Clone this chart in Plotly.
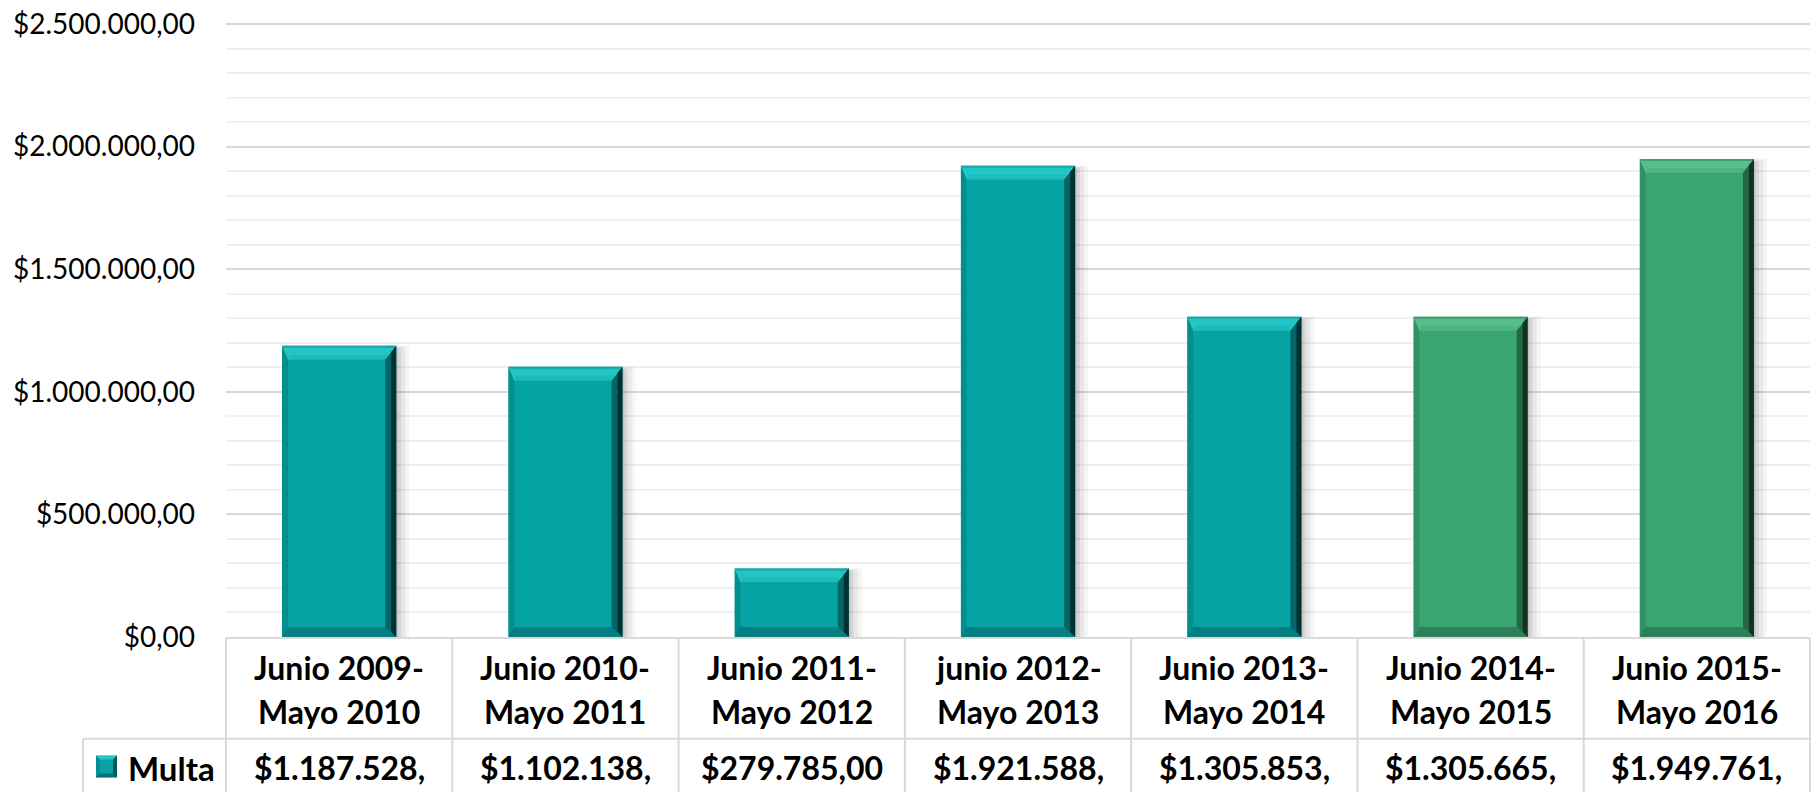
import plotly.graph_objects as go

# ---------------- data ----------------
periods_line1 = ["Junio 2009-", "Junio 2010-", "Junio 2011-", "junio 2012-",
                 "Junio 2013-", "Junio 2014-", "Junio 2015-"]
periods_line2 = ["Mayo 2010", "Mayo 2011", "Mayo 2012", "Mayo 2013",
                 "Mayo 2014", "Mayo 2015", "Mayo 2016"]
multa = [1187528, 1102138, 279785, 1921588, 1305853, 1305665, 1949761]
series_name = "Multa"
bar_colors = ["#05A3A3", "#05A3A3", "#05A3A3", "#05A3A3", "#05A3A3", "#3AA572", "#3AA572"]
y_tick_step = 500000
y_minor_step = 100000
y_top = 2500000

# lighter tone used for the top bevel of each bar colour
LIGHT = {"#05A3A3": "rgba(40,205,205,0.85)", "#3AA572": "rgba(90,195,140,0.85)"}

# ---------------- layout geometry ----------------
W, H = 1816, 792
HR = 4                                  # px of headroom above the top gridline
L, R, T, B = 226, 6, 22 - HR, 155
PW, PH = W - L - R, H - T - B
uy = y_top / (PH - HR)                  # data units per pixel (y)
YMAX = y_top + HR * uy
N = len(multa)
XMIN, XMAX = -0.5, N - 0.5
ux = (XMAX - XMIN) / PW                 # data units per pixel (x)
BARW = 0.505
hw = BARW / 2

FONT = "Lato, 'Open Sans', sans-serif"


def pxx(px):
    return (px - L) / PW


def pxy(py):
    return (T + PH - py) / PH


def fmt_money(v):
    s = f"{v:,.2f}".replace(",", "X").replace(".", ",").replace("X", ".")
    return "$" + s


fig = go.Figure()
fig.add_trace(go.Bar(
    x=list(range(N)), y=multa, name=series_name,
    marker=dict(color=bar_colors, line=dict(width=0)),
    width=BARW, showlegend=False, hoverinfo="y",
))

shapes = []
# bevel / shadow decoration for each bar, derived from the data values
for i, (v, c) in enumerate(zip(multa, bar_colors)):
    x0, x1 = i - hw, i + hw
    # soft shadow to the right
    for k, a in ((13, 0.04), (9, 0.05), (5, 0.07), (2, 0.08)):
        shapes.append(dict(type="rect", xref="x", yref="y", layer="between",
                           x0=x0 + 2 * ux, x1=x1 + k * ux, y0=0, y1=v - 3 * uy + k * 0.25 * uy,
                           line=dict(width=0), fillcolor=f"rgba(0,0,0,{a})"))
    bt, bb, bl, br = 14 * uy, 10 * uy, 6 * ux, 11 * ux
    ix0, ix1, iy0, iy1 = x0 + bl, x1 - br, bb, v - bt
    # top (light)
    shapes.append(dict(type="path", xref="x", yref="y", layer="above",
                       path=f"M{x0},{v} L{x1},{v} L{ix1},{iy1} L{ix0},{iy1} Z",
                       fillcolor=LIGHT[c], line=dict(width=0)))
    shapes.append(dict(type="path", xref="x", yref="y", layer="above",
                       path=f"M{x0 + 8*ux},{v - 9*uy} L{x1 - 8*ux},{v - 9*uy} L{ix1},{iy1} L{ix0},{iy1} Z",
                       fillcolor="rgba(0,0,0,0.06)", line=dict(width=0)))
    shapes.append(dict(type="path", xref="x", yref="y", layer="above",
                       path=f"M{x0},{v} L{x1},{v} L{x1 - 2*ux},{v - 2*uy} L{x0 + 2*ux},{v - 2*uy} Z",
                       fillcolor="rgba(0,0,0,0.18)", line=dict(width=0)))
    # right (dark)
    shapes.append(dict(type="path", xref="x", yref="y", layer="above",
                       path=f"M{x1},{v} L{x1},{0} L{ix1},{iy0} L{ix1},{iy1} Z",
                       fillcolor="rgba(0,0,0,0.38)", line=dict(width=0)))
    shapes.append(dict(type="path", xref="x", yref="y", layer="above",
                       path=f"M{x1},{v} L{x1},{0} L{x1 - 5*ux},{5*uy} L{x1 - 5*ux},{v - 6*uy} Z",
                       fillcolor="rgba(0,0,0,0.5)", line=dict(width=0)))
    # bottom (darker)
    shapes.append(dict(type="path", xref="x", yref="y", layer="above",
                       path=f"M{x0},{0} L{x1},{0} L{ix1},{iy0} L{ix0},{iy0} Z",
                       fillcolor="rgba(0,0,0,0.22)", line=dict(width=0)))
    # left (slightly dark)
    shapes.append(dict(type="path", xref="x", yref="y", layer="above",
                       path=f"M{x0},{v} L{x0},{0} L{ix0},{iy0} L{ix0},{iy1} Z",
                       fillcolor="rgba(0,0,0,0.12)", line=dict(width=0)))

# ---------------- data table below the chart ----------------
GRID = "#D9D9D9"
top_y, mid_y, bot_y = pxy(638), pxy(739), pxy(H + 2)
shapes.append(dict(type="line", xref="paper", yref="paper", x0=0, x1=1, y0=top_y, y1=top_y,
                   line=dict(color=GRID, width=2)))
shapes.append(dict(type="line", xref="paper", yref="paper", x0=pxx(83), x1=1, y0=mid_y, y1=mid_y,
                   line=dict(color=GRID, width=2)))
shapes.append(dict(type="line", xref="paper", yref="paper", x0=pxx(83), x1=pxx(83), y0=mid_y, y1=bot_y,
                   line=dict(color=GRID, width=2)))
for k in range(N + 1):
    xk = k / N
    shapes.append(dict(type="line", xref="paper", yref="paper", x0=xk, x1=xk, y0=top_y, y1=bot_y,
                       line=dict(color=GRID, width=2)))

# legend key (bevelled square)
kx0, kx1, ky0, ky1 = pxx(96), pxx(117), pxy(778), pxy(756)
shapes.append(dict(type="rect", xref="paper", yref="paper", x0=kx0, x1=kx1, y0=ky0, y1=ky1,
                   fillcolor=bar_colors[0], line=dict(width=0)))
ikx0, ikx1, iky0, iky1 = pxx(100), pxx(113), pxy(774), pxy(760)
for pth, col in (
    (f"M{kx0},{ky1} L{kx1},{ky1} L{ikx1},{iky1} L{ikx0},{iky1} Z", LIGHT[bar_colors[0]]),
    (f"M{kx1},{ky1} L{kx1},{ky0} L{ikx1},{iky0} L{ikx1},{iky1} Z", "rgba(0,0,0,0.45)"),
    (f"M{kx0},{ky0} L{kx1},{ky0} L{ikx1},{iky0} L{ikx0},{iky0} Z", "rgba(0,0,0,0.3)"),
    (f"M{kx0},{ky1} L{kx0},{ky0} L{ikx0},{iky0} L{ikx0},{iky1} Z", "rgba(0,0,0,0.12)"),
):
    shapes.append(dict(type="path", xref="paper", yref="paper", path=pth,
                       fillcolor=col, line=dict(width=0)))

annotations = []
annotations.append(dict(xref="paper", yref="paper", x=pxx(126), y=pxy(768), xanchor="left",
                        yanchor="middle", showarrow=False, text=f"<b>{series_name}</b>",
                        font=dict(family=FONT, size=33, color="#000000")))
for i, (a, b, v) in enumerate(zip(periods_line1, periods_line2, multa)):
    annotations.append(dict(xref="x", yref="paper", x=i, y=pxy(668), xanchor="center",
                            yanchor="middle", showarrow=False, text=f"<b>{a}</b>",
                            font=dict(family=FONT, size=32, color="#000000")))
    annotations.append(dict(xref="x", yref="paper", x=i, y=pxy(712), xanchor="center",
                            yanchor="middle", showarrow=False, text=f"<b>{b}</b>",
                            font=dict(family=FONT, size=32, color="#000000")))
    # table cell is narrow: the text is clipped to its first 11 characters, as in the source
    annotations.append(dict(xref="x", yref="paper", x=i, y=pxy(768), xanchor="center",
                            yanchor="middle", showarrow=False,
                            text=f"<b>{fmt_money(v)[:11]}</b>",
                            font=dict(family=FONT, size=32, color="#000000")))

fig.update_layout(
    width=W, height=H,
    margin=dict(l=L, r=R, t=T, b=B, pad=0),
    paper_bgcolor="white", plot_bgcolor="white",
    separators=",.",
    font=dict(family=FONT, color="#000000"),
    shapes=shapes, annotations=annotations,
    showlegend=False,
    xaxis=dict(range=[XMIN, XMAX], tickmode="array", tickvals=list(range(N)),
               showticklabels=False,
               showgrid=False, zeroline=False, showline=False, ticks="", fixedrange=True),
    yaxis=dict(range=[0, YMAX], tick0=0, dtick=y_tick_step, tickprefix="$", tickformat=",.2f",
               showgrid=True, gridcolor="#D9D9D9", gridwidth=2,
               minor=dict(dtick=y_minor_step, tick0=0, showgrid=True, gridcolor="#F0F0F0", gridwidth=2),
               zeroline=False, showline=False, ticks="",
               tickfont=dict(family=FONT, size=28, color="#000000"),
               ticklabelstandoff=30, fixedrange=True),
)

fig.write_html("out.html", config={"displayModeBar": False},
               post_script="document.body.style.margin='0px';document.body.style.overflow='hidden';")
